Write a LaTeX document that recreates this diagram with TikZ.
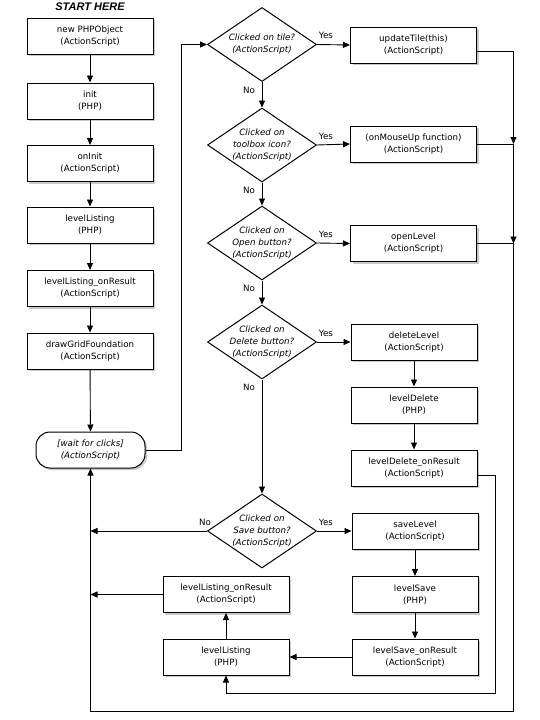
\documentclass[tikz,border=0pt]{standalone}
\usepackage{fontspec}
\setmainfont{DejaVu Sans}
\newfontfamily\titlefont{Liberation Sans}
\usetikzlibrary{shapes.geometric,arrows.meta,shadows}
\begin{document}
\begin{tikzpicture}[x=1pt,y=-1pt,
  font=\fontsize{8.7}{12}\selectfont,
  shd/.style={drop shadow={shadow xshift=2pt,shadow yshift=-2pt,fill=black!30,opacity=0.7}},
  box/.style={draw,line width=1pt,fill=white,minimum width=126pt,minimum height=36pt,inner sep=0pt,align=center,shd},
  waitbox/.style={draw,line width=1pt,fill=white,minimum width=109pt,minimum height=36pt,inner sep=0pt,align=center,rounded corners=14pt,font=\fontsize{8.7}{12}\selectfont\itshape,shd},
  dia/.style={draw,line width=1pt,fill=white,shape=diamond,minimum width=109pt,minimum height=74pt,inner sep=0pt},
  diatext/.style={align=center,inner sep=0pt,font=\fontsize{8.7}{12}\selectfont\itshape},
  lbl/.style={inner sep=0pt},
  line/.style={line width=0.9pt},
  conn/.style={line width=0.9pt,-{Triangle[length=7pt,width=6pt]}}]
\useasboundingbox (0,0) rectangle (540,720);

\node[font=\titlefont\fontsize{11}{13}\selectfont\bfseries\itshape] (start) at (90,7) {START HERE};

% left column
\node[box] (a1) at (90,36) {new PHPObject\\(ActionScript)};
\node[box] (a2) at (90,101) {init\\(PHP)};
\node[box] (a3) at (90,163.5) {onInit\\(ActionScript)};
\node[box] (a4) at (90,225) {levelListing\\(PHP)};
\node[box] (a5) at (90,288.5) {levelListing\_onResult\\(ActionScript)};
\node[box] (a6) at (90,351) {drawGridFoundation\\(ActionScript)};
\node[waitbox] (wait) at (90.5,450) {{[wait for clicks]}\\(ActionScript)};

% diamonds
\node[dia] (d1) at (262,44.5) {};
\node[diatext] (d1t) at (d1) {Clicked on tile?\\(ActionScript)};
\node[dia] (d2) at (262,145) {};
\node[diatext] (d2t) at (d2) {Clicked on\\toolbox icon?\\(ActionScript)};
\node[dia] (d3) at (262,243) {};
\node[diatext] (d3t) at (d3) {Clicked on\\Open button?\\(ActionScript)};
\node[dia] (d4) at (262,342) {};
\node[diatext] (d4t) at (d4) {Clicked on\\Delete button?\\(ActionScript)};
\node[dia] (d5) at (262,531) {};
\node[diatext] (d5t) at (d5) {Clicked on\\Save button?\\(ActionScript)};

% right column
\node[box] (r1) at (413.5,45) {updateTile(this)\\(ActionScript)};
\node[box] (r2) at (413.5,144) {(onMouseUp function)\\(ActionScript)};
\node[box] (r3) at (413.5,243.5) {openLevel\\(ActionScript)};
\node[box] (r4) at (414,342) {deleteLevel\\(ActionScript)};
\node[box] (r5) at (414,405) {levelDelete\\(PHP)};
\node[box] (r6) at (414,468) {levelDelete\_onResult\\(ActionScript)};
\node[box] (r7) at (415,531) {saveLevel\\(ActionScript)};
\node[box] (r8) at (415,594.5) {levelSave\\(PHP)};
\node[box] (r9) at (415,657) {levelSave\_onResult\\(ActionScript)};

% bottom left
\node[box] (l1) at (226,594.5) {levelListing\_onResult\\(ActionScript)};
\node[box] (l2) at (226,657) {levelListing\\(PHP)};

% helper coordinates
\coordinate (loopx) at (181,0);
\coordinate (rx) at (513.5,0);
\coordinate (ix) at (495.5,0);
\coordinate (iy) at (0,693);
\coordinate (by) at (0,711);

% left column connectors
\draw[conn] (a1) -- (a2);
\draw[conn] (a2) -- (a3);
\draw[conn] (a3) -- (a4);
\draw[conn] (a4) -- (a5);
\draw[conn] (a5) -- (a6);
\draw[conn] (a6) -- (wait);
\draw[conn] (wait.east) -| (loopx |- d1.west) -- (d1.west);

% decisions
\draw[conn] (d1.east) -- (r1.west);
\draw[conn] (d1.south) -- (d2.north);
\draw[conn] (d2.east) -- (r2.west);
\draw[conn] (d2.south) -- (d3.north);
\draw[conn] (d3.east) -- (r3.west);
\draw[conn] (d3.south) -- (d4.north);
\draw[conn] (d4.east) -- (r4.west);
\draw[conn] (d4.south) -- (d5.north);
\draw[conn] (d5.east) -- (r7.west);
\draw[conn] (d5.west) -- (wait.south |- d5.west);

\node[lbl] (y1) at ([xshift=9pt,yshift=9pt]d1.east) {Yes};
\node[lbl] (y2) at ([xshift=9pt,yshift=9pt]d2.east) {Yes};
\node[lbl] (y3) at ([xshift=9pt,yshift=9pt]d3.east) {Yes};
\node[lbl] (y4) at ([xshift=9pt,yshift=9pt]d4.east) {Yes};
\node[lbl] (y5) at ([xshift=9pt,yshift=9pt]d5.east) {Yes};
\node[lbl] (n1) at ([xshift=-13pt,yshift=-8pt]d1.south) {No};
\node[lbl] (n2) at ([xshift=-13pt,yshift=-8pt]d2.south) {No};
\node[lbl] (n3) at ([xshift=-13pt,yshift=-8pt]d3.south) {No};
\node[lbl] (n4) at ([xshift=-13pt,yshift=-8pt]d4.south) {No};
\node[lbl] (n5) at ([xshift=-2pt,yshift=9pt]d5.west) {No};

% right column chains
\draw[conn] (r4) -- (r5);
\draw[conn] (r5) -- (r6);
\draw[conn] (r7) -- (r8);
\draw[conn] (r8) -- (r9);
\draw[conn] (r9) -- (l2);
\draw[conn] (l2) -- (l1);
\draw[conn] (l1.west) -- (wait.south |- l1.west);

% merge lines on the right
\draw[conn] ([yshift=-6pt]r1.east) -| (rx |- r2.east);
\draw[line] (r2.east) -- (rx |- r2.east);
\draw[conn] (rx |- r2.east) -- (rx |- r3.east);
\draw[line] (r3.east) -- (rx |- r3.east);
\draw[conn] (rx |- r3.east) -- (rx |- by) -| (wait.south);
\draw[conn] ([yshift=-7pt]r6.east) -| (ix |- iy) -| (l2.south);
\end{tikzpicture}
\end{document}
